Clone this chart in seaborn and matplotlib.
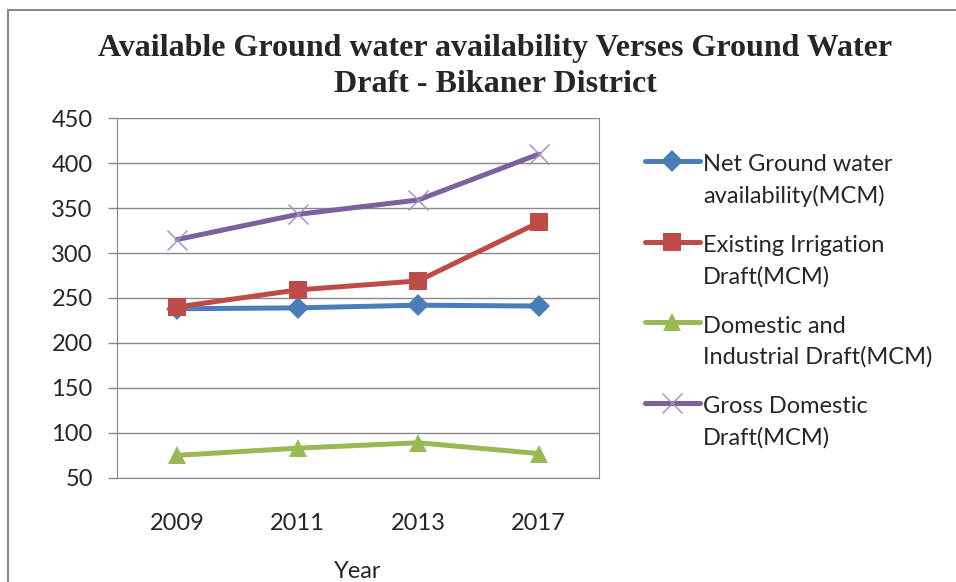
import seaborn as sns
import matplotlib.pyplot as plt
import matplotlib.patches as patches
from matplotlib.legend_handler import HandlerLine2D
import pandas as pd

years = ["2009", "2011", "2013", "2017"]
net_availability = [238, 239, 242, 241]
irrigation_draft = [240, 259, 269, 334]
domestic_industrial = [75, 83, 89, 77]
gross_domestic = [315, 343, 359, 410]

series_names = [
    "Net Ground water\navailability(MCM)",
    "Existing Irrigation\nDraft(MCM)",
    "Domestic and\nIndustrial Draft(MCM)",
    "Gross Domestic\nDraft(MCM)",
]
colors = ["#4A7EBB", "#BE4B48", "#98B954", "#7D60A0"]
markers = ["D", "s", "^", "x"]
msizes = [11, 13.5, 13, 14]

rows = []
for name, vals in zip(series_names, [net_availability, irrigation_draft,
                                     domestic_industrial, gross_domestic]):
    for yr, v in zip(years, vals):
        rows.append({"Year": yr, "Value": v, "Series": name})
df = pd.DataFrame(rows)


class FirstLineHandler(HandlerLine2D):
    # keep the legend handle level with the first line of a two-line label
    def create_artists(self, legend, orig_handle, xdescent, ydescent,
                       width, height, fontsize, trans):
        return super().create_artists(legend, orig_handle, xdescent,
                                      ydescent - 1.65 * fontsize, width,
                                      height, fontsize, trans)


sns.set_style("white")
plt.rcParams["font.family"] = ["Lato", "DejaVu Sans"]

fig = plt.figure(figsize=(9.56, 5.82), dpi=100)
ax = fig.add_axes([117 / 956, 0.179, 482 / 956, 0.618])

for name, c, m, ms in zip(series_names, colors, markers, msizes):
    sub = df[df["Series"] == name]
    ec = "#A08CC2" if m == "x" else c
    sns.lineplot(data=sub, x="Year", y="Value", ax=ax, color=c, marker=m,
                 markersize=ms, linewidth=3.6, label=name, errorbar=None,
                 markeredgecolor=ec, markeredgewidth=1 if m == "x" else 0)

ax.set_xlim(-0.5, 3.5)
ax.set_ylim(50, 450)
ax.set_yticks(range(50, 451, 50))
ax.yaxis.grid(True, color="#898989", linewidth=1)
ax.set_axisbelow(True)
ax.set_xticks([-0.5, 0.5, 1.5, 2.5, 3.5], minor=True)
ax.tick_params(axis="x", which="major", length=0, labelsize=17, pad=25)
ax.tick_params(axis="x", which="minor", length=6.5, color="#898989", width=1,
               direction="out")
ax.tick_params(axis="y", length=6.5, color="#898989", width=1, labelsize=17,
               direction="out", left=True, pad=11)
ax.spines["top"].set_visible(False)
ax.spines["right"].set_color("#898989")
for s in ["left", "bottom"]:
    ax.spines[s].set_color("#898989")
ax.set_xlabel("Year", fontsize=17, labelpad=20)
ax.set_ylabel("")

handles, labels = ax.get_legend_handles_labels()
leg = ax.legend(handles, labels, loc="upper left",
                bbox_to_anchor=(0.675, 0.736),
                bbox_transform=fig.transFigure, frameon=False, fontsize=17,
                labelspacing=1.2, handlelength=2.3, handletextpad=0.15,
                borderpad=0, borderaxespad=0,
                handler_map={h: FirstLineHandler() for h in handles})
for t in leg.get_texts():
    t.set_linespacing(1.55)

fig.suptitle("Available Ground water availability Verses Ground Water\n"
             "Draft - Bikaner District", x=0.518, y=0.886, va="center",
             family="Liberation Serif", fontweight="bold", fontsize=23,
             linespacing=1.3)

fig.patches.append(patches.Rectangle((8 / 956, -0.1), 1.2, 1 - 10 / 582 + 0.1,
                                     transform=fig.transFigure, fill=False,
                                     edgecolor="#898989", linewidth=1.5))

fig.savefig("out.png", dpi=100)
